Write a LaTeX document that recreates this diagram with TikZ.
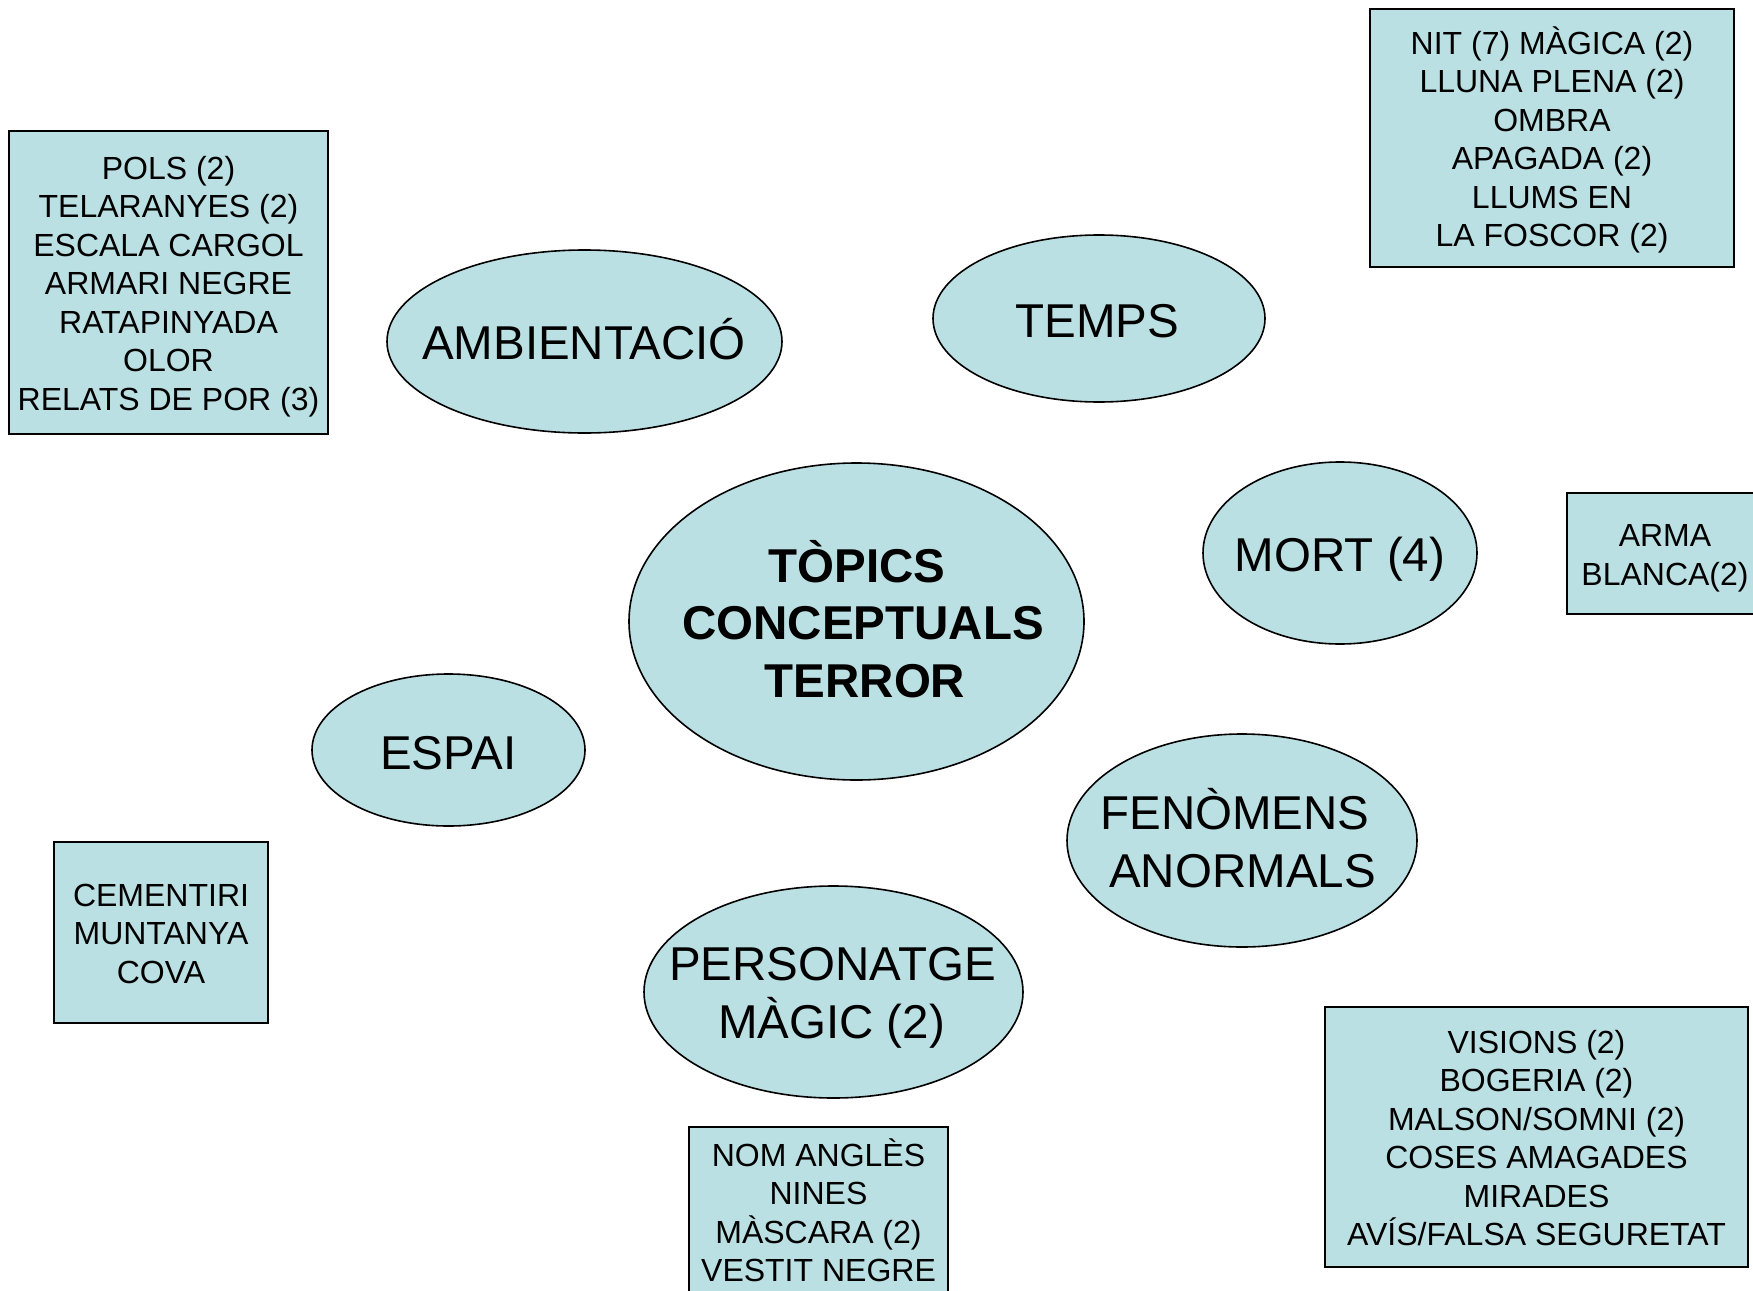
\documentclass[tikz,border=0pt]{standalone}
\usepackage{fontspec}
\setmainfont{Liberation Sans}
\usetikzlibrary{shapes.geometric}
\definecolor{pale}{HTML}{BBE0E3}
\newcommand\capstrut{\rule[-7pt]{0pt}{38.5pt}}
\begin{document}
\begin{tikzpicture}[x=1pt,y=-1pt,
  oval/.style={ellipse, draw=black, line width=1.6pt, fill=pale, inner sep=0pt},
  card/.style={rectangle, draw=black, line width=2pt, fill=pale, inner sep=0pt, align=center,
    font=\fontsize{32}{38.5}\selectfont},
  big/.style={inner sep=0pt, anchor=base, font=\fontsize{47.5}{57.5}\selectfont},
  bigb/.style={inner sep=0pt, anchor=base, font=\fontsize{47.5}{57.5}\selectfont\bfseries},
]
\useasboundingbox (0,0) rectangle (1753,1290);
\fill[white] (0,0) rectangle (1753,1290);
\clip (0,0) rectangle (1753,1290);

% boxes
\node[card, minimum width=319pt, minimum height=303pt] (ambbox) at (168.5,282.5)
  {\capstrut POLS (2)\\TELARANYES (2)\\ESCALA CARGOL\\ARMARI NEGRE\\RATAPINYADA\\OLOR\\\capstrut RELATS DE POR (3)};
\node[card, minimum width=364pt, minimum height=258pt] (tempsbox) at (1552,138)
  {\capstrut NIT (7) MÀGICA (2)\\LLUNA PLENA (2)\\OMBRA\\APAGADA (2)\\LLUMS EN\\\capstrut LA FOSCOR (2)};
\node[card, minimum width=196pt, minimum height=121pt] (mortbox) at (1665,553.5)
  {\capstrut ARMA\\\capstrut BLANCA(2)};
\node[card, minimum width=214pt, minimum height=181pt] (espaibox) at (161,932.5)
  {\capstrut CEMENTIRI\\MUNTANYA\\\capstrut COVA};
\node[card, minimum width=423pt, minimum height=260pt] (fenbox) at (1536.5,1137)
  {\capstrut VISIONS (2)\\BOGERIA (2)\\MALSON/SOMNI (2)\\COSES AMAGADES\\MIRADES\\\capstrut AVÍS/FALSA SEGURETAT};
\node[card, minimum width=259pt, minimum height=169pt] (perbox) at (818.5,1211.5)
  {\capstrut NOM ANGLÈS\\NINES\\MÀSCARA (2)\\\capstrut VESTIT NEGRE};

% ellipses
\node[oval, minimum width=395pt, minimum height=183pt] (amb) at (584.5,341.5) {};
\node[big] (ambt) at (584,359) {AMBIENTACIÓ};

\node[oval, minimum width=332pt, minimum height=167pt] (temps) at (1099,318.5) {};
\node[big] (tempst) at (1097.5,337) {TEMPS};

\node[oval, minimum width=455pt, minimum height=317pt] (top) at (856.5,621.5) {};
\node[bigb] (topa) at (857,582) {TÒPICS};
\node[bigb] (topb) at (863,639) {CONCEPTUALS};
\node[bigb] (topc) at (865,697) {TERROR};

\node[oval, minimum width=274pt, minimum height=182pt] (mort) at (1340,553) {};
\node[big] (mortt) at (1340,571) {MORT (4)};

\node[oval, minimum width=273pt, minimum height=152pt] (espai) at (448.5,750) {};
\node[big] (espait) at (448.5,769) {ESPAI};

\node[oval, minimum width=350pt, minimum height=213pt] (fen) at (1242,840.5) {};
\node[big] (fena) at (1235,829) {FENÒMENS};
\node[big] (fenb) at (1242.5,887) {ANORMALS};

\node[oval, minimum width=379pt, minimum height=212pt] (per) at (833.5,992) {};
\node[big] (pera) at (832.5,980) {PERSONATGE};
\node[big] (perb) at (831.5,1038) {MÀGIC (2)};
\end{tikzpicture}
\end{document}
